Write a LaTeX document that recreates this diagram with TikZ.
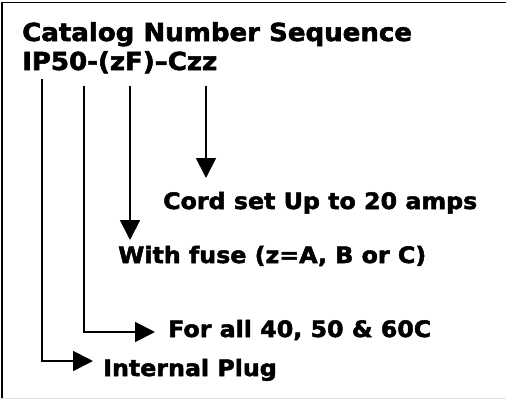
\documentclass[tikz,border=0pt]{standalone}
\usepackage{fontspec}
\newfontfamily\vbold{DejaVu Sans Bold}[FakeBold=2.2, FakeStretch=1.05]
\usetikzlibrary{arrows.meta}
\begin{document}
\begin{tikzpicture}[x=1pt,y=-1pt,
  ttl/.style={anchor=base west,inner sep=0pt,font=\vbold\fontsize{24.8}{28}\selectfont},
  lbl/.style={anchor=base west,inner sep=0pt,font=\vbold\fontsize{22.6}{26}\selectfont},
  conn/.style={line width=1.8pt,-{Triangle[width=20pt,length=20pt]}}]
\useasboundingbox (0,0) rectangle (506,399);
\draw[line width=1.8pt] (2,399) -- (2,2.5) -- (506,2.5);
\draw[black!12,line width=1pt] (0,398.5) -- (506,398.5);

\node[ttl] (title) at (22,41) {Catalog Number Sequence};
\node[ttl] (code) at (22,70) {IP50-(zF)–Czz};

\node[lbl] (cord) at (163,209) {Cord set Up to 20 amps};
\node[lbl] (fuse) at (118,263) {With fuse (z=A, B or C)};
\node[lbl] (forall) at (168,337) {For all 40, 50 \& 60C};
\node[lbl] (plug) at (103,376) {Internal Plug};

\coordinate (s1) at (42,79);
\coordinate (s2) at (84,86);
\coordinate (s3) at (130,86);
\coordinate (s4) at (206,86);
\coordinate (e4) at (206,178);
\coordinate (e3) at (130,240);
\coordinate (e2) at (155,332);
\coordinate (e1) at (93,361);

\draw[conn] (s4) -- (e4);
\draw[conn] (s3) -- (e3);
\draw[conn] (s2) |- (e2);
\draw[conn] (s1) |- (e1);
\end{tikzpicture}
\end{document}
